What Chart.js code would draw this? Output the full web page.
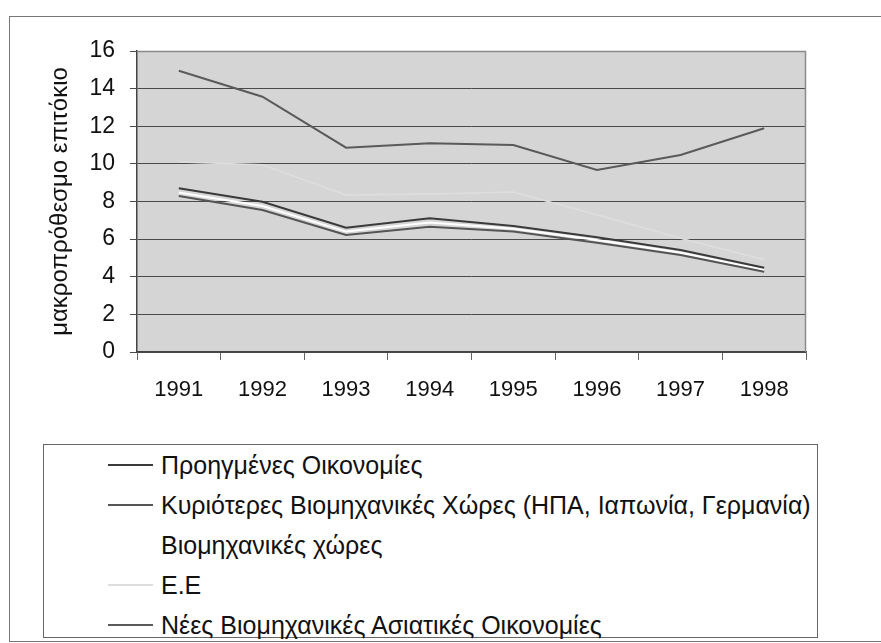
<!DOCTYPE html>
<html><head><meta charset="utf-8">
<script src="https://cdn.jsdelivr.net/npm/chart.js@4/dist/chart.umd.min.js"></script>
<style>
html,body{margin:0;padding:0;background:#fff;width:881px;height:643px;overflow:hidden;font-family:"Liberation Sans",Arial,sans-serif;}
#frame{position:absolute;left:9px;top:16px;width:900px;height:624px;border:1px solid #777;border-right:none;}
#wrap{position:absolute;left:0;top:0;width:881px;height:425px;}
#legend{position:absolute;left:43px;top:444px;width:775px;height:194px;border:1px solid #666;box-sizing:border-box;}
.row{position:absolute;left:0;height:28px;line-height:28px;font-size:25px;color:#111;white-space:nowrap}
.sw{position:absolute;left:64px;top:13px;width:45px;height:2px}
.lbl{position:absolute;left:117px;top:0;}
</style></head>
<body>
<div id="frame"></div>
<div id="wrap"><canvas id="c" width="881" height="425"></canvas></div>
<div id="legend"></div>
<script>
const years = ['1991','1992','1993','1994','1995','1996','1997','1998'];
const advanced   = [8.70, 7.99, 6.61, 7.11, 6.70, 6.10, 5.42, 4.48];
const major      = [8.29, 7.55, 6.22, 6.66, 6.40, 5.81, 5.16, 4.27];
const industrial = [8.48, 7.76, 6.40, 6.88, 6.55, 5.95, 5.28, 4.36];
const eu         = [10.1, 9.95, 8.35, 8.40, 8.50, 7.30, 6.05, 4.90];
const asian      = [14.95, 13.57, 10.86, 11.10, 11.00, 9.68, 10.47, 11.89];
const seriesNames = ['Προηγμένες Οικονομίες','Κυριότερες Βιομηχανικές Χώρες (ΗΠΑ, Ιαπωνία, Γερμανία)','Βιομηχανικές χώρες','Ε.Ε','Νέες Βιομηχανικές Ασιατικές Οικονομίες'];
const seriesColors = ['#3a3a3a','#555555','#ffffff','#dedede','#5a5a5a'];
const yAxisTitle = 'μακροπρόθεσμο επιτόκιο';
const yMin = 0, yMax = 16, yStep = 2;

const seriesData = [advanced, major, industrial, eu, asian];

const bgPlugin = {
  id:'bg',
  beforeDraw(chart){
    const {ctx, chartArea:a} = chart;
    ctx.save(); ctx.fillStyle='#d5d5d5';
    ctx.fillRect(a.left,a.top,a.right-a.left,a.bottom-a.top); ctx.restore();
  },
  afterDraw(chart){
    const {ctx, chartArea:a} = chart;
    ctx.save(); ctx.strokeStyle='#8a8a8a'; ctx.lineWidth=1.5;
    ctx.beginPath(); ctx.moveTo(a.left,a.top+0.5); ctx.lineTo(a.right-0.5,a.top+0.5); ctx.lineTo(a.right-0.5,a.bottom); ctx.stroke();
    ctx.restore();
  }
};

new Chart(document.getElementById('c'), {
  type:'line',
  data:{
    labels: years,
    datasets: seriesData.map((d,i)=>({
      label: seriesNames[i], data: d, borderColor: seriesColors[i],
      borderWidth: i===3 ? 1.5 : 2, pointRadius: 0, tension: 0, fill: false
    }))
  },
  options:{
    responsive:false, animation:false,
    layout:{padding:{left:0,top:51,right:75,bottom:0}},
    plugins:{legend:{display:false}, tooltip:{enabled:false}},
    scales:{
      x:{
        offset:true,
        grid:{display:true, drawOnChartArea:false, drawTicks:true, tickLength:8, color:'#666', offset:true},
        border:{display:true, color:'#444', width:1.5},
        ticks:{font:{family:'"Liberation Sans", Arial, sans-serif', size:22}, color:'#111', padding:17, maxRotation:0},
        afterFit(s){ s.height = 73; }
      },
      y:{
        min:yMin, max:yMax,
        grid:{color:'#4a4a4a', lineWidth:1, tickLength:7, drawTicks:true},
        border:{display:true, color:'#444', width:1.5},
        ticks:{stepSize:yStep, font:{family:'"Liberation Sans", Arial, sans-serif', size:23}, color:'#111', padding:15},
        title:{display:true, text:yAxisTitle, font:{family:'"Liberation Sans", Arial, sans-serif', size:24}, color:'#111', padding:{top:46,bottom:0}},
        afterFit(s){ s.width = 137; }
      }
    }
  },
  plugins:[bgPlugin]
});

const leg = document.getElementById('legend');
seriesNames.forEach((n,i)=>{
  const r = document.createElement('div'); r.className='row';
  r.style.top = (6 + i*40) + 'px'; r.style.width='100%';
  const sw = document.createElement('div'); sw.className='sw'; sw.style.background = seriesColors[i];
  const lb = document.createElement('span'); lb.className='lbl'; lb.textContent = n;
  r.appendChild(sw); r.appendChild(lb); leg.appendChild(r);
});
</script>
</body></html>
